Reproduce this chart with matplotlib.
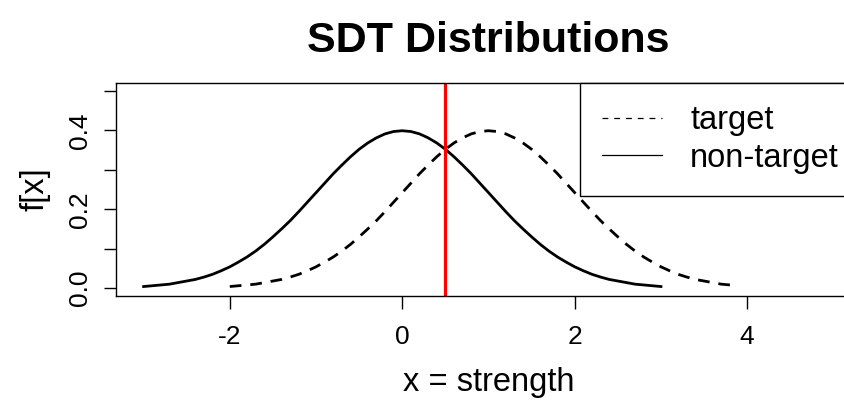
import matplotlib
matplotlib.use("Agg")
import matplotlib.pyplot as plt
from matplotlib.lines import Line2D

plt.rcParams['font.family'] = ['Liberation Sans', 'DejaVu Sans']
plt.rcParams['xtick.labelsize'] = 19
plt.rcParams['ytick.labelsize'] = 19

# density values, step 0.1
nontarget_x = [round(-3.0 + 0.1 * i, 1) for i in range(61)]
nontarget_y = [0.004, 0.006, 0.008, 0.010, 0.014, 0.018, 0.022, 0.028, 0.035, 0.044,
               0.054, 0.066, 0.079, 0.094, 0.111, 0.130, 0.150, 0.171, 0.194, 0.218,
               0.242, 0.266, 0.290, 0.312, 0.333, 0.352, 0.368, 0.381, 0.391, 0.397,
               0.399,
               0.397, 0.391, 0.381, 0.368, 0.352, 0.333, 0.312, 0.290, 0.266, 0.242,
               0.218, 0.194, 0.171, 0.150, 0.130, 0.111, 0.094, 0.079, 0.066, 0.054,
               0.044, 0.035, 0.028, 0.022, 0.018, 0.014, 0.010, 0.008, 0.006, 0.004]

target_x = [round(-2.0 + 0.1 * i, 1) for i in range(60)]
target_y = [0.004, 0.006, 0.008, 0.010, 0.014, 0.018, 0.022, 0.028, 0.035, 0.044,
            0.054, 0.066, 0.079, 0.094, 0.111, 0.130, 0.150, 0.171, 0.194, 0.218,
            0.242, 0.266, 0.290, 0.312, 0.333, 0.352, 0.368, 0.381, 0.391, 0.397,
            0.399,
            0.397, 0.391, 0.381, 0.368, 0.352, 0.333, 0.312, 0.290, 0.266, 0.242,
            0.218, 0.194, 0.171, 0.150, 0.130, 0.111, 0.094, 0.079, 0.066, 0.054,
            0.044, 0.035, 0.028, 0.022, 0.018, 0.014, 0.010, 0.008, 0.006]

criterion = 0.5

x_ticks = [-2, 0, 2, 4]
y_ticks = [0.0, 0.1, 0.2, 0.3, 0.4, 0.5]
y_ticklabels = ['0.0', '', '0.2', '', '0.4', '']

fig = plt.figure(figsize=(8.45, 4), dpi=100)
ax = fig.add_axes([116/845, 104/400, 745/845, 213/400])

ax.plot(target_x, target_y, color='black', lw=2.0, linestyle=(0, (4.2, 3.2)))
ax.plot(nontarget_x, nontarget_y, color='black', lw=2.0)
ax.axvline(criterion, color='red', lw=2.3)

ax.set_xlim(-3.32, 5.32)
ax.set_ylim(-0.02, 0.52)
ax.set_xticks(x_ticks, [str(t) for t in x_ticks])
ax.set_yticks(y_ticks, y_ticklabels)
ax.tick_params(axis='both', length=9, width=1, direction='out', labelsize=19)
ax.tick_params(axis='x', pad=12)
ax.tick_params(axis='y', pad=8)
for lab in ax.get_yticklabels():
    lab.set_rotation(90)
    lab.set_va('center')
for s in ax.spines.values():
    s.set_linewidth(1.0)
ax.spines['right'].set_visible(False)

ax.set_xlabel('x = strength', fontsize=23.5, labelpad=13)
ax.set_ylabel('f[x]', fontsize=23.5, labelpad=13)
ax.set_title('SDT Distributions', fontsize=31, fontweight='bold', pad=22)

handles = [Line2D([], [], color='black', lw=0.9, linestyle=(0, (4.7, 4.7))),
           Line2D([], [], color='black', lw=0.9)]
leg = ax.legend(handles, ['target', 'non-target'], loc='upper right',
                bbox_to_anchor=(1, 1), borderaxespad=0, fancybox=False,
                edgecolor='black', framealpha=1, fontsize=23.5,
                handlelength=1.84, handletextpad=0.86, labelspacing=0.2,
                borderpad=0.68)
leg.get_frame().set_linewidth(1.0)

fig.savefig('out.png', dpi=100)
